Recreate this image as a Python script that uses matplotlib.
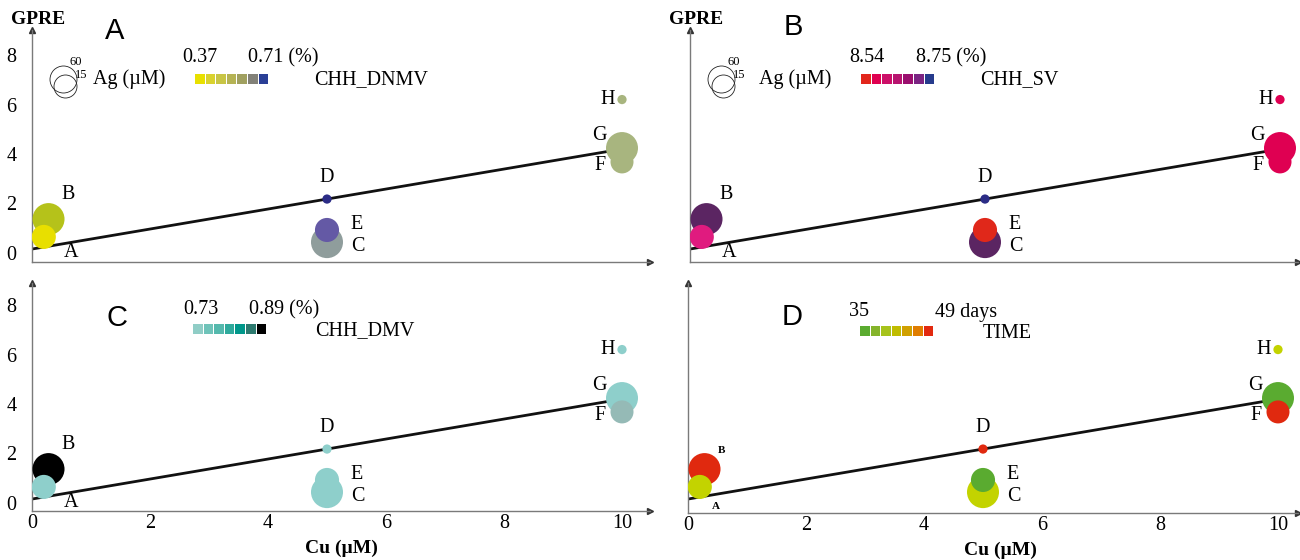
import matplotlib
matplotlib.use("Agg")
import matplotlib.pyplot as plt
from matplotlib.patches import Rectangle

# ---------------- data ----------------
points = ["A", "B", "C", "D", "E", "F", "G", "H"]
cu_um = [0.2, 0.28, 5.0, 5.0, 5.0, 10.0, 10.0, 10.0]
gpre = [0.65, 1.37, 0.44, 2.18, 0.93, 3.68, 4.24, 6.2]
ag_um = [34, 60, 60, 5, 34, 31, 60, 5]
fit_intercept = 0.16
fit_slope = 0.404
fit_range = [0, 10]
y_ticks = [0, 2, 4, 6, 8]
x_ticks = [0, 2, 4, 6, 8, 10]
legend_ag = ["60", "15"]

colors_dnmv = ["#e8df00", "#b5c21a", "#8f9d9c", "#2b2c86", "#6459a5", "#a8b57f", "#a8b57f", "#a8b57f"]
colors_sv = ["#e01b7f", "#5b2562", "#5b2562", "#2b2c86", "#e0281a", "#df0052", "#df0052", "#df0052"]
colors_dmv = ["#8ecfcb", "#000000", "#8ecfcb", "#8ecfcb", "#8ecfcb", "#95bab6", "#8ecfcb", "#8ecfcb"]
colors_time = ["#c3d300", "#e0290f", "#c3d300", "#e0290f", "#5aab30", "#e0290f", "#5aab30", "#c3d300"]

scale_dnmv = ["#e8e000", "#d9d22e", "#c8c545", "#b5b354", "#a0a060", "#828178", "#2a3f96"]
scale_sv = ["#e2261c", "#df0050", "#cc0f68", "#b7146f", "#9a0e6e", "#7b2482", "#263b8c"]
scale_dmv = ["#90cdc6", "#6fc3b9", "#55b9ad", "#2faa9c", "#00978a", "#2d7a6f", "#000000"]
scale_time = ["#5aab30", "#85b42b", "#a7c31c", "#c0bc00", "#d0a000", "#e07d00", "#e2290f"]

scale_lo = ["0.37", "8.54", "0.73", "35"]
scale_hi = ["0.71 (%)", "8.75 (%)", "0.89 (%)", "49 days"]
scale_name = ["CHH_DNMV", "CHH_SV", "CHH_DMV", "TIME"]
panel_letters = ["A", "B", "C", "D"]

# ---------------- style ----------------
W, H = 1300, 560
SERIF = ["Liberation Serif", "DejaVu Serif"]
SANS = ["Liberation Sans", "DejaVu Sans"]
PX_PER_X = 59.0
PX_PER_Y = 24.75
S_PER_AG = 8.85
FS = 14.5

fig = plt.figure(figsize=(W / 100, H / 100), dpi=100)


def fxy(x, y):
    return x / W, 1 - y / H


def ftext(x, y, s, **kw):
    fx, fy = fxy(x, y)
    kw.setdefault("family", SERIF)
    kw.setdefault("va", "center")
    kw.setdefault("ha", "left")
    fig.text(fx, fy, s, **kw)


# panel boxes (left, top, right, bottom) in px, y of GPRE=0 in px
boxes = [
    (32, 30, 650, 262, 253),
    (690, 30, 1298, 262, 253),
    (32, 283, 650, 511, 503),
    (688, 283, 1298, 513, 503),
]
panel_colors = [colors_dnmv, colors_sv, colors_dmv, colors_time]
panel_scales = [scale_dnmv, scale_sv, scale_dmv, scale_time]

label_off = {"A": (27, -16), "B": (20, 25), "C": (31, -4), "D": (0, 22),
             "E": (30, 5), "F": (-22, -4), "G": (-23, 13), "H": (-14, 0)}
label_off_small = {"A": (16, -20), "B": (17, 19)}
draw_order = ["B", "A", "C", "E", "D", "G", "F", "H"]

for p, (l, t, r, b, zero) in enumerate(boxes):
    ax = fig.add_axes([l / W, 1 - b / H, (r - l) / W, (b - t) / H])
    ax.set_xlim(0, (r - l) / PX_PER_X)
    ax.set_ylim((zero - b) / PX_PER_Y, (zero - t) / PX_PER_Y)
    ax.set_facecolor("none")
    for s in ["top", "right"]:
        ax.spines[s].set_visible(False)
    for s in ["left", "bottom"]:
        ax.spines[s].set_color("#7a7a7a")
        ax.spines[s].set_linewidth(1.0)
    # arrow heads
    ax.plot([1], [0], marker=">", ms=4, color="#333333", transform=ax.transAxes, clip_on=False)
    ax.plot([0], [1], marker="^", ms=4, color="#333333", transform=ax.transAxes, clip_on=False)

    # ticks
    ax.tick_params(length=0)
    if p in (0, 2):
        ax.set_yticks(y_ticks)
        ax.set_yticklabels([str(v) for v in y_ticks], family=SERIF, fontsize=FS)
        ax.tick_params(axis="y", pad=11)
    else:
        ax.set_yticks([])
    if p in (2, 3):
        ax.set_xticks(x_ticks)
        ax.set_xticklabels([str(v) for v in x_ticks], family=SERIF, fontsize=FS)
        ax.tick_params(axis="x", pad=2)
    else:
        ax.set_xticks([])

    # fit line
    ax.plot(fit_range, [fit_intercept + fit_slope * v for v in fit_range],
            color="#111111", lw=2.0, zorder=2, solid_capstyle="butt")

    # bubbles
    cols = panel_colors[p]
    for name in draw_order:
        i = points.index(name)
        ax.scatter(cu_um[i], gpre[i], s=ag_um[i] * S_PER_AG, color=cols[i],
                   edgecolors="none", zorder=3)
        if p == 3 and name in label_off_small:
            dx, dy = label_off_small[name]
            ax.annotate(name, (cu_um[i], gpre[i]), xytext=(dx, dy), textcoords="offset pixels",
                        ha="center", va="center", family=SERIF, fontsize=8, fontweight="bold",
                        zorder=5)
        else:
            dx, dy = label_off[name]
            ax.annotate(name, (cu_um[i], gpre[i]), xytext=(dx, dy), textcoords="offset pixels",
                        ha="center", va="center", family=SERIF, fontsize=FS, zorder=5)

# GPRE labels
ftext(11, 19, "GPRE", fontsize=14, fontweight="bold")
ftext(669, 19, "GPRE", fontsize=14, fontweight="bold")

# Cu labels
ftext(341, 548, "Cu (\u00b5M)", fontsize=14, fontweight="bold", ha="center")
ftext(1000, 550, "Cu (\u00b5M)", fontsize=14, fontweight="bold", ha="center")

# panel letters
letter_pos = [(115, 31), (793, 27), (117, 318), (792, 317)]
for L, (x, y) in zip(panel_letters, letter_pos):
    ftext(x, y, L, fontsize=21, family=SANS, ha="center")

# size legends (panels A and B)
for dx, ag_x in [(0, 93), (658, 759)]:
    for (cx, cy, rr) in [(62.5 + dx, 79, 13.5), (64.5 + dx, 86, 11.5)]:
        fx, fy = fxy(cx, cy)
        d_pt = 2 * rr * 0.72
        fig.add_artist(plt.Line2D([fx], [fy], marker="o", ms=d_pt, mfc="none",
                                  mec="#222222", mew=0.6, transform=fig.transFigure))
    ftext(76 + dx, 62, legend_ag[0], fontsize=9, ha="center")
    ftext(81 + dx, 75, legend_ag[1], fontsize=9, ha="center")
    ftext(ag_x, 79, "Ag (\u00b5M)", fontsize=FS)

# colour scales
scale_layout = [
    # sq_x0, sq_y, lo_x, lo_y, hi_x, name_x, name_y
    (195, 79, 182, 58, 248, 314, 80),
    (861, 79, 849, 58, 916, 980, 80),
    (193, 329, 183, 310, 249, 315, 331),
    (860, 331, 849, 312, 935, 983, 333),
]
for p, (sx, sy, lox, loy, hix, nx, ny) in enumerate(scale_layout):
    for k, c in enumerate(panel_scales[p]):
        x0 = sx + k * 10.6
        fx, fy = fxy(x0, sy + 5)
        fig.add_artist(Rectangle((fx, fy), 9.6 / W, 10 / H, facecolor=c,
                                 edgecolor="none", transform=fig.transFigure))
    ftext(lox, loy, scale_lo[p], fontsize=FS)
    ftext(hix, loy, scale_hi[p], fontsize=FS)
    ftext(nx, ny, scale_name[p], fontsize=FS)

fig.savefig("out.png", dpi=100, facecolor="white")
